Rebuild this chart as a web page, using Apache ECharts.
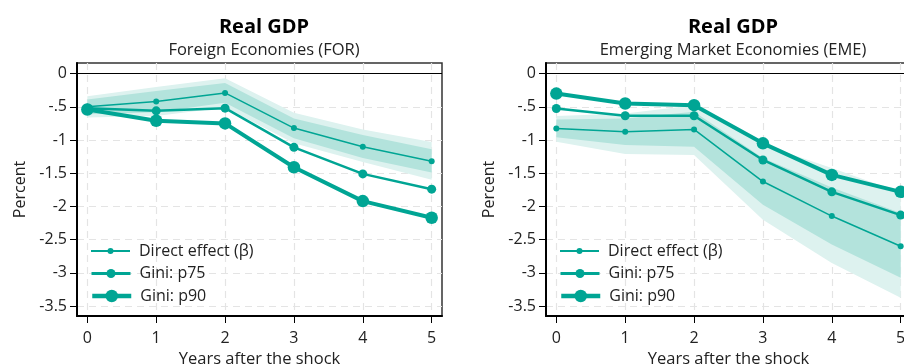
<!DOCTYPE html>
<html>
<head>
<meta charset="utf-8">
<script src="https://cdn.jsdelivr.net/npm/echarts@6/dist/echarts.min.js"></script>
<style>
  html, body { margin: 0; padding: 0; background: #fff; }
  #chart { width: 904px; height: 364px; }
</style>
</head>
<body>
<div id="chart"></div>
<script>
// 数据
var years = [0, 1, 2, 3, 4, 5];
var yTicks = [0, -0.5, -1, -1.5, -2, -2.5, -3, -3.5];
var yTickLabels = ['0', '-.5', '-1', '-1.5', '-2', '-2.5', '-3', '-3.5'];
var seriesNames = ['Direct effect (\u03b2)', 'Gini: p75', 'Gini: p90'];

// Foreign Economies (FOR)
var forDirect = [-0.50, -0.42, -0.29, -0.82, -1.10, -1.32];
var forP75 = [-0.52, -0.56, -0.52, -1.11, -1.51, -1.74];
var forP90 = [-0.54, -0.71, -0.75, -1.41, -1.92, -2.17];
var forOuterHi = [-0.34, -0.20, -0.07, -0.59, -0.84, -1.03];
var forOuterLo = [-0.66, -0.64, -0.51, -1.05, -1.33, -1.60];
var forInnerHi = [-0.39, -0.26, -0.14, -0.675, -0.925, -1.14];
var forInnerLo = [-0.61, -0.58, -0.44, -0.975, -1.27, -1.49];

// Emerging Market Economies (EME)
var emeDirect = [-0.825, -0.875, -0.84, -1.625, -2.145, -2.60];
var emeP75 = [-0.525, -0.635, -0.635, -1.30, -1.78, -2.13];
var emeP90 = [-0.30, -0.45, -0.475, -1.05, -1.525, -1.78];
var emeOuterHi = [-0.64, -0.60, -0.475, -1.07, -1.42, -1.79];
var emeOuterLo = [-1.025, -1.21, -1.225, -2.20, -2.85, -3.375];
var emeInnerHi = [-0.69, -0.675, -0.575, -1.27, -1.715, -2.10];
var emeInnerLo = [-0.96, -1.075, -1.10, -1.975, -2.575, -3.075];

var teal = '#00a594';
var outerColor = '#ddf2ef';
var innerColor = '#b3e3dc';
var fontFamily = '"Open Sans", "Noto Sans", sans-serif';

var lineWidths = [1.5, 2.5, 4];
var symbolSizes = [6, 9, 12.5];

function pairs(ys) {
    return years.map(function (x, i) { return [x, ys[i]]; });
}

// 置信区间带: 用 custom 系列画多边形
function bandSeries(lo, hi, color, idx) {
    var rows = years.map(function (x, i) { return [x, lo[i], hi[i]]; });
    return {
        type: 'custom', xAxisIndex: idx, yAxisIndex: idx, silent: true, z: 1,
        data: rows,
        encode: { x: 0, y: [1, 2] },
        renderItem: function (params, api) {
            if (params.dataIndex !== 0) return;
            var top = [], bottom = [];
            for (var i = 0; i < rows.length; i++) {
                top.push(api.coord([rows[i][0], rows[i][2]]));
                bottom.unshift(api.coord([rows[i][0], rows[i][1]]));
            }
            return {
                type: 'polygon',
                shape: { points: top.concat(bottom) },
                style: { fill: color, stroke: null }
            };
        }
    };
}

function lineSeries(name, ys, k, idx) {
    return {
        name: name, type: 'line', xAxisIndex: idx, yAxisIndex: idx,
        data: pairs(ys), symbol: 'circle', symbolSize: symbolSizes[k],
        lineStyle: { color: teal, width: lineWidths[k] },
        itemStyle: { color: teal },
        z: 3 + k
    };
}

function zeroLine(idx) {
    return {
        type: 'line', xAxisIndex: idx, yAxisIndex: idx, data: [], silent: true,
        markLine: {
            silent: true, symbol: ['none', 'none'],
            label: { show: false },
            lineStyle: { color: '#000', width: 1.2, type: 'solid' },
            data: [{ yAxis: 0 }]
        }
    };
}

function yLabel(v) {
    for (var i = 0; i < yTicks.length; i++) {
        if (Math.abs(yTicks[i] - v) < 1e-6) return yTickLabels[i];
    }
    return '';
}

var gridLefts = [77, 546];
var gridRights = [462, -7];
var plotCenters = [259, 728];

var grids = [], xAxes = [], yAxes = [], titles = [], legends = [];
for (var g = 0; g < 2; g++) {
    grids.push({
        left: gridLefts[g], right: gridRights[g], top: 63, bottom: 48,
        outerBoundsMode: 'none', containLabel: false,
        show: true, borderColor: '#333', borderWidth: 1.5, backgroundColor: '#fff'
    });
    xAxes.push({
        type: 'value', gridIndex: g, min: -0.15, max: 5.15,
        name: 'Years after the shock', nameLocation: 'middle', nameGap: 33,
        nameTextStyle: { fontSize: 16.5, color: '#222', fontFamily: fontFamily },
        axisLine: { show: true, onZero: false, lineStyle: { color: '#000', width: 2 } },
        axisTick: { show: true, length: 7, customValues: years, lineStyle: { color: '#000', width: 1 } },
        axisLabel: { customValues: years, fontSize: 16, margin: 14, color: '#222', fontFamily: fontFamily },
        splitLine: { show: true, lineStyle: { color: '#e4e4e4', width: 1.2, type: [7, 5] } }
    });
    yAxes.push({
        type: 'value', gridIndex: g, min: -3.65, max: 0.16,
        name: 'Percent', nameLocation: 'middle', nameGap: 49, nameRotate: 90,
        nameTextStyle: { fontSize: 16, color: '#222', fontFamily: fontFamily },
        axisLine: { show: true, onZero: false, lineStyle: { color: '#000', width: 2 } },
        axisTick: { show: true, length: 7, customValues: yTicks, lineStyle: { color: '#000', width: 1 } },
        axisLabel: { customValues: yTicks, formatter: yLabel, fontSize: 16, margin: 10, color: '#222', fontFamily: fontFamily },
        splitLine: { show: true, lineStyle: { color: '#e4e4e4', width: 1.2, type: [7, 5] } }
    });
    for (var k = 0; k < 3; k++) {
        legends.push({
            data: [seriesNames[k]],
            left: gridLefts[g] + 8, top: 238 + k * 22.5,
            orient: 'vertical', selectedMode: false,
            itemWidth: 39, itemHeight: symbolSizes[k] / 0.8, itemGap: 0,
            lineStyle: { width: lineWidths[k] + 0.5 },
            textStyle: { fontSize: 16, color: '#222', fontFamily: fontFamily, padding: [0, 0, 0, 4] }
        });
    }
}

titles.push({
    text: 'Real GDP', subtext: 'Foreign Economies (FOR)',
    left: plotCenters[0], top: 12, textAlign: 'center', itemGap: 5,
    textStyle: { fontSize: 20, fontWeight: 'bold', color: '#000', fontFamily: fontFamily },
    subtextStyle: { fontSize: 16.5, color: '#222', fontFamily: fontFamily }
});
titles.push({
    text: 'Real GDP', subtext: 'Emerging Market Economies (EME)',
    left: plotCenters[1], top: 12, textAlign: 'center', itemGap: 5,
    textStyle: { fontSize: 20, fontWeight: 'bold', color: '#000', fontFamily: fontFamily },
    subtextStyle: { fontSize: 16.5, color: '#222', fontFamily: fontFamily }
});

var series = [];
series.push(bandSeries(forOuterLo, forOuterHi, outerColor, 0));
series.push(bandSeries(forInnerLo, forInnerHi, innerColor, 0));
series.push(zeroLine(0));
series.push(lineSeries(seriesNames[0], forDirect, 0, 0));
series.push(lineSeries(seriesNames[1], forP75, 1, 0));
series.push(lineSeries(seriesNames[2], forP90, 2, 0));

series.push(bandSeries(emeOuterLo, emeOuterHi, outerColor, 1));
series.push(bandSeries(emeInnerLo, emeInnerHi, innerColor, 1));
series.push(zeroLine(1));
series.push(lineSeries(seriesNames[0], emeDirect, 0, 1));
series.push(lineSeries(seriesNames[1], emeP75, 1, 1));
series.push(lineSeries(seriesNames[2], emeP90, 2, 1));

var mychart = echarts.init(document.getElementById('chart'));
mychart.setOption({
    animation: false,
    backgroundColor: '#fff',
    textStyle: { fontFamily: fontFamily },
    title: titles,
    legend: legends,
    grid: grids,
    xAxis: xAxes,
    yAxis: yAxes,
    series: series
});
</script>
</body>
</html>
